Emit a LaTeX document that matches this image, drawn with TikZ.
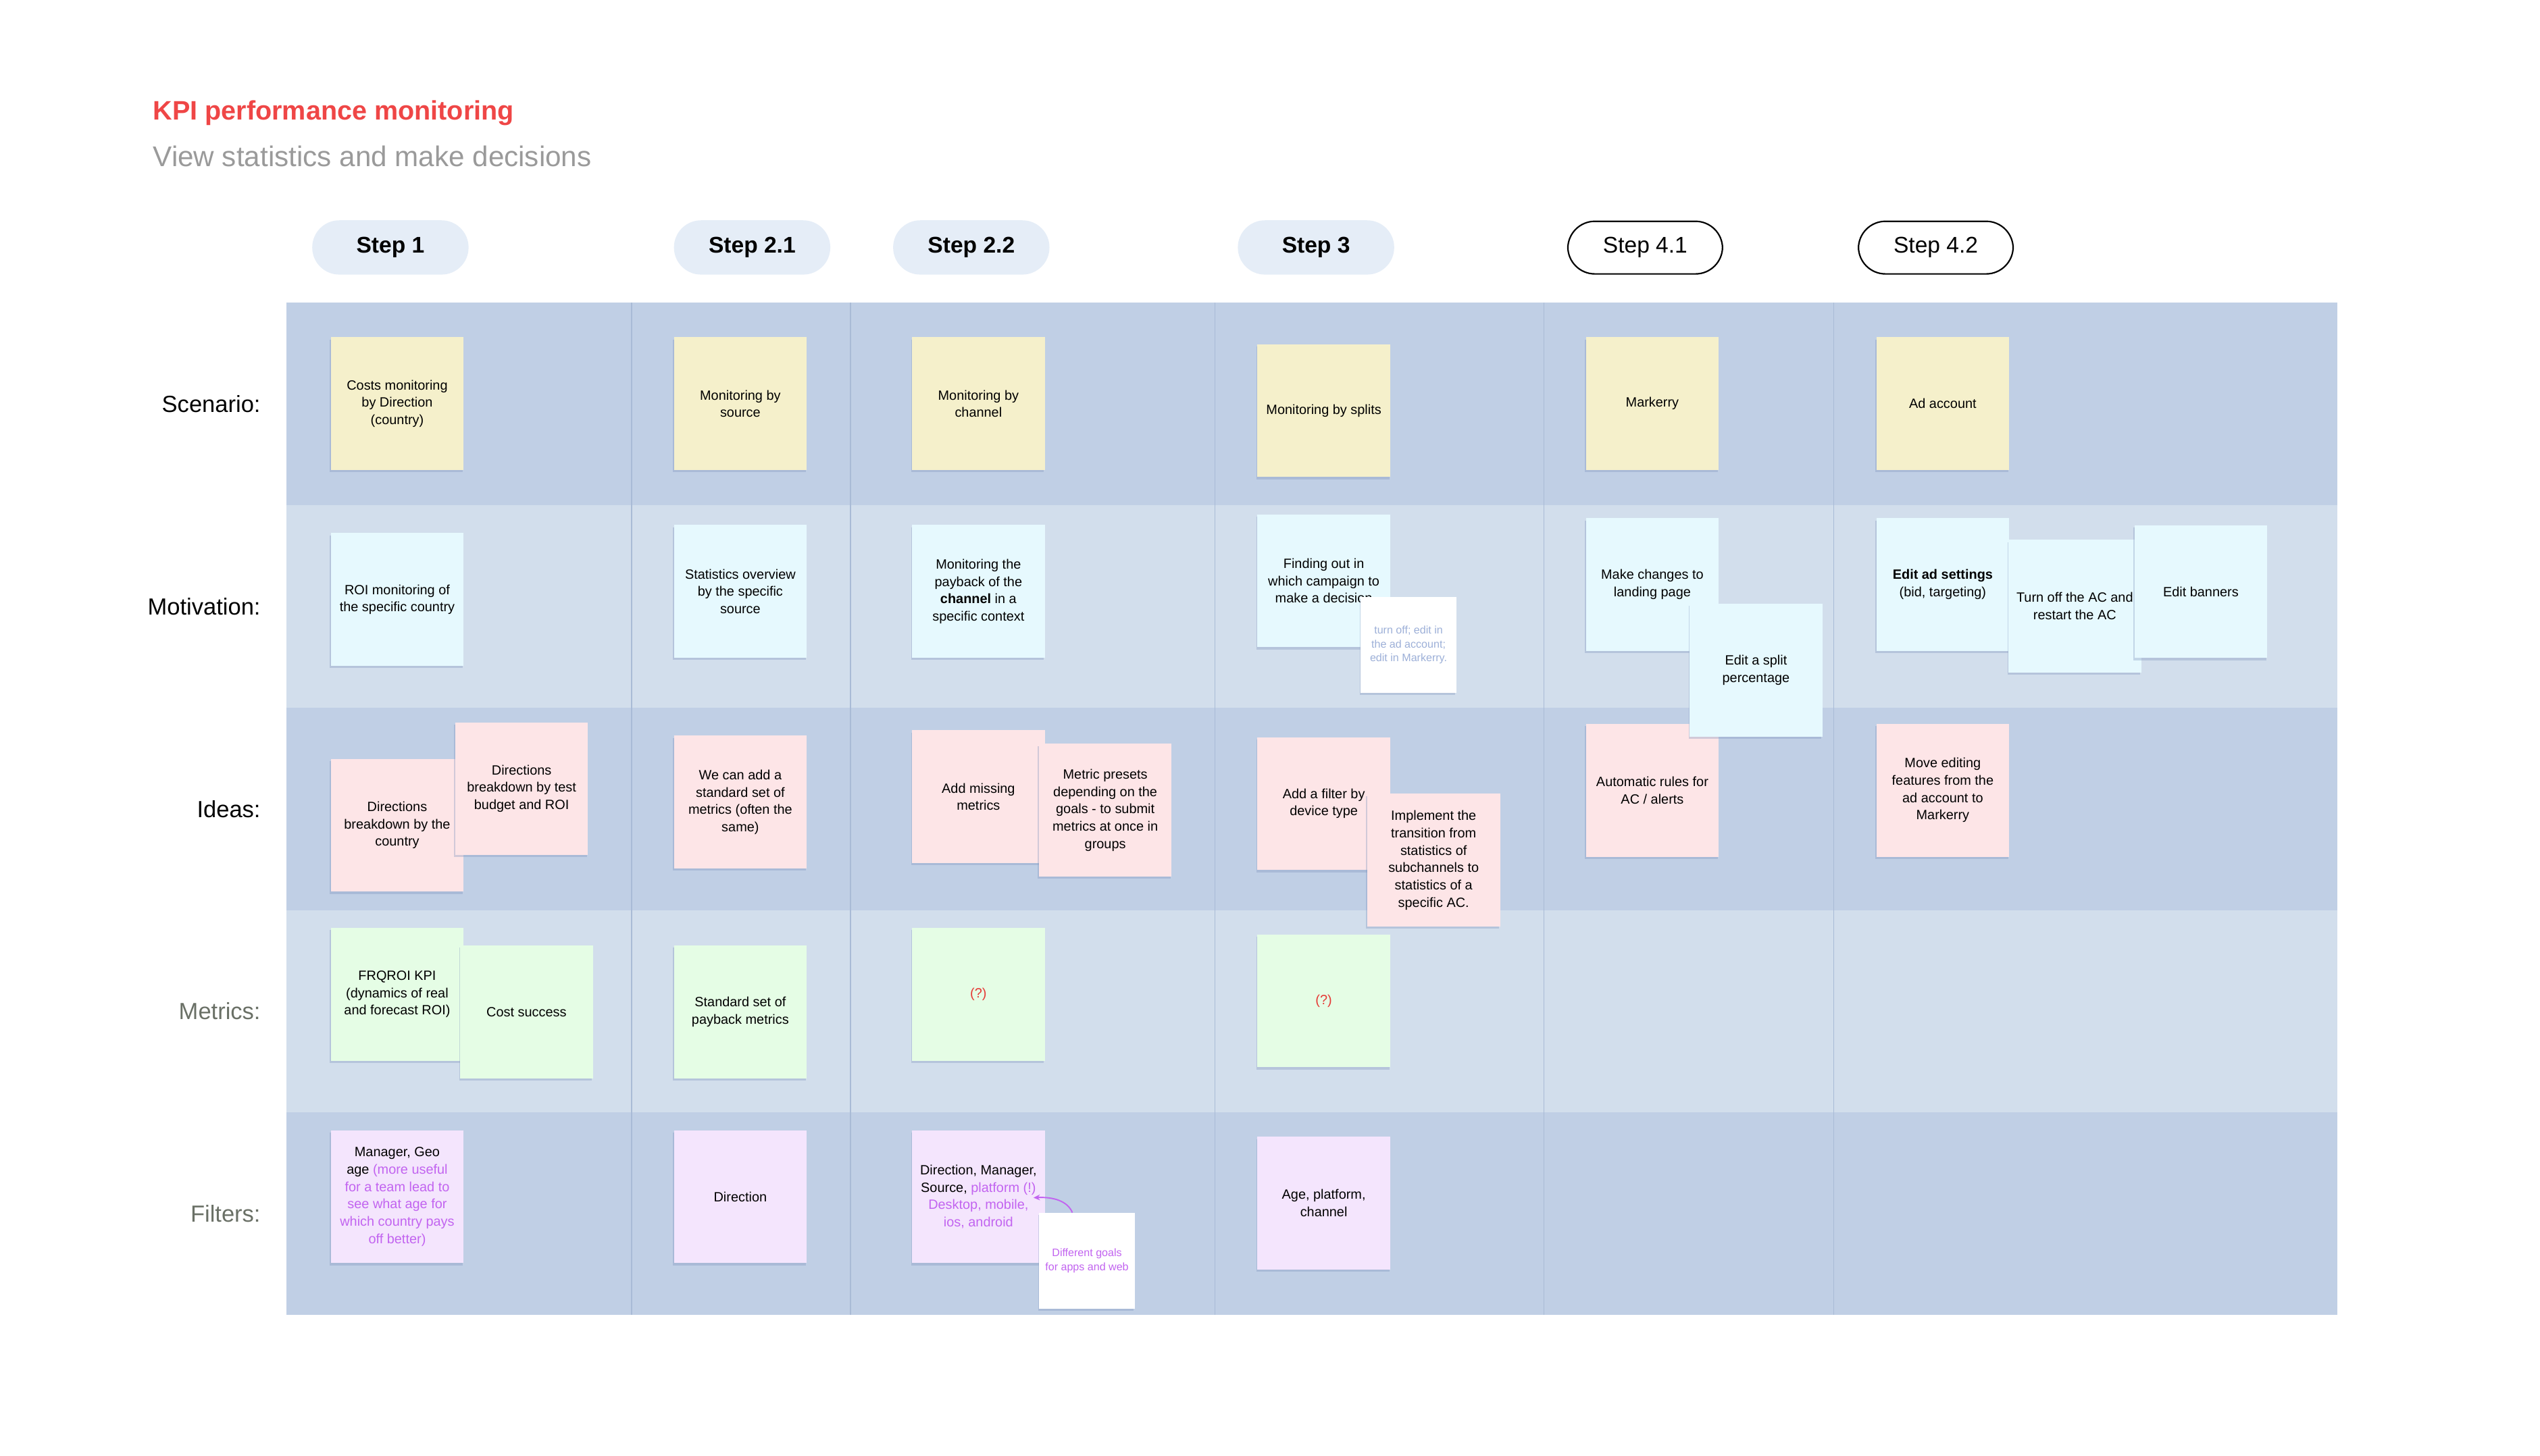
\documentclass[tikz,border=0pt]{standalone}
\usepackage{fontspec}
\setmainfont{Liberation Sans}
\usetikzlibrary{shadows,arrows.meta}
\definecolor{boardDark}{HTML}{C0CFE5}
\definecolor{boardLight}{HTML}{D2DEEC}
\definecolor{divider}{HTML}{A9BBD6}
\definecolor{stYellow}{HTML}{F5F0CB}
\definecolor{stCyan}{HTML}{E6F9FE}
\definecolor{stPink}{HTML}{FDE5E7}
\definecolor{stGreen}{HTML}{E5FDE5}
\definecolor{stPurple}{HTML}{F4E5FD}
\definecolor{pillFill}{HTML}{E5EDF7}
\definecolor{titleRed}{HTML}{EF4646}
\definecolor{subGray}{HTML}{9A9A9A}
\definecolor{labGray}{HTML}{6A7066}
\definecolor{purp}{HTML}{C264F0}
\definecolor{qRed}{HTML}{E53935}
\definecolor{noteBlue}{HTML}{9DB0D8}
\definecolor{shadowC}{HTML}{7F95BE}
\newcommand\stfont{\fontsize{8.3}{10.7}\selectfont}
\newcommand\smfont{\fontsize{6.7}{8.4}\selectfont}
\newcommand\labfont{\fontsize{14.4}{17}\selectfont}
\newcommand\pillfont{\fontsize{14}{16}\selectfont}
\begin{document}
\begin{tikzpicture}[x=1pt,y=-1pt,
  sticky/.style={rectangle, minimum width=82pt, minimum height=82pt, inner sep=0pt,
    align=center, font=\stfont, text=black,
    drop shadow={shadow xshift=-0.6pt, shadow yshift=-1.4pt, opacity=0.35, fill=shadowC}},
  yel/.style={sticky, fill=stYellow},
  cya/.style={sticky, fill=stCyan},
  pnk/.style={sticky, fill=stPink},
  grn/.style={sticky, fill=stGreen},
  pur/.style={sticky, fill=stPurple},
  smallnote/.style={sticky, fill=white, minimum width=59pt, minimum height=59pt, font=\smfont},
  pillA/.style={rectangle, rounded corners=16.7pt, minimum width=96.5pt, minimum height=33.5pt,
    fill=pillFill, font=\pillfont\bfseries, inner sep=0pt},
  pillB/.style={rectangle, rounded corners=16.7pt, minimum width=95.5pt, minimum height=32.5pt,
    fill=white, draw=black, line width=0.9pt, font=\pillfont, inner sep=0pt},
  rowlab/.style={anchor=east, font=\labfont, inner sep=0pt},
  rowband/.style={draw=none},
  divline/.style={draw=divider, line width=0.6pt}
]
\useasboundingbox (0,0) rectangle (1568,899);
\fill[white] (0,0) rectangle (1568,899);

% title
\node[anchor=base west, inner sep=0pt, font=\fontsize{16.5}{20}\selectfont\bfseries, text=titleRed] (title) at (94.3,74) {KPI performance monitoring};
\node[anchor=base west, inner sep=0pt, font=\fontsize{17.6}{21}\selectfont, text=subGray] (subtitle) at (94.3,103) {View statistics and make decisions};

% steps
\node[pillA] (p1)  at (241,152.8) {Step 1};
\node[pillA] (p21) at (464.3,152.8) {Step 2.1};
\node[pillA] (p22) at (599.6,152.8) {Step 2.2};
\node[pillA] (p3)  at (812.4,152.8) {Step 3};
\node[pillB] (p41) at (1015.6,152.9) {Step 4.1};
\node[pillB] (p42) at (1195,152.9) {Step 4.2};

% board rows
\fill[boardDark]  (177,187) rectangle (1443,312);
\fill[boardLight] (177,312) rectangle (1443,437);
\fill[boardDark]  (177,437) rectangle (1443,562);
\fill[boardLight] (177,562) rectangle (1443,687);
\fill[boardDark]  (177,687) rectangle (1443,812);
% column dividers
\foreach \cx in {390,525,750,953,1132} {
  \draw[divline] (\cx,187) -- (\cx,812);
}

% row labels
\node[rowlab] (l1) at (161,249.5) {Scenario:};
\node[rowlab] (l2) at (161,374.5) {Motivation:};
\node[rowlab] (l3) at (161,499.5) {Ideas:};
\node[rowlab, text=labGray] (l4) at (161,624.5) {Metrics:};
\node[rowlab, text=labGray] (l5) at (161,749.5) {Filters:};

% Step 1
\node[yel] (sc1) at (245.2,249.3) {Costs monitoring\\by Direction\\(country)};
\node[cya] (mo1) at (245.2,370.2) {ROI monitoring of\\the specific country};
\node[pnk] (id1a) at (245.2,509.6) {Directions\\breakdown by the\\country};
\node[pnk] (id1b) at (322,487) {Directions\\breakdown by test\\budget and ROI};
\node[grn] (me1a) at (245.2,614) {FRQROI KPI\\(dynamics of real\\and forecast ROI)};
\node[grn] (me1b) at (325,624.8) {Cost success};
\node[pur] (fi1) at (245.2,739) {Manager, Geo\\age \textcolor{purp}{(more useful}\\\textcolor{purp}{for a team lead to}\\\textcolor{purp}{see what age for}\\\textcolor{purp}{which country pays}\\\textcolor{purp}{off better)}};

% Step 2.1
\node[yel] (sc21) at (457,249.3) {Monitoring by\\source};
\node[cya] (mo21) at (457,365.2) {Statistics overview\\by the specific\\source};
\node[pnk] (id21) at (457,495.3) {We can add a\\standard set of\\metrics (often the\\same)};
\node[grn] (me21) at (457,624.8) {Standard set of\\payback metrics};
\node[pur] (fi21) at (457,739) {Direction};

% Step 2.2
\node[yel] (sc22) at (604,249.3) {Monitoring by\\channel};
\node[cya] (mo22) at (604,365.2) {Monitoring the\\payback of the\\\textbf{channel} in a\\specific context};
\node[pnk] (id22a) at (604,492) {Add missing\\metrics};
\node[pnk] (id22b) at (682.3,500.3) {Metric presets\\depending on the\\goals - to submit\\metrics at once in\\groups};
\node[grn, text=qRed] (me22) at (604,614) {(?)};
\node[pur] (fi22) at (604,739) {Direction, Manager,\\Source, \textcolor{purp}{platform (!)}\\\textcolor{purp}{Desktop, mobile,}\\\textcolor{purp}{ios, android}};
\node[smallnote, text=purp] (nt22) at (671,778.5) {Different goals\\for apps and web};
\coordinate (plat) at (638,739.6);
\draw[purp, line width=0.8pt, -{Stealth[length=4pt,width=3.6pt]}] ([xshift=-9pt]nt22.north) .. controls (659,741.5) and (650,739) .. (plat);

% Step 3
\node[yel] (sc3) at (817.2,253.5) {Monitoring by splits};
\node[cya] (mo3) at (817.2,358.6) {Finding out in\\which campaign to\\make a decision};
\node[smallnote, text=noteBlue] (nt3) at (869.5,398.2) {turn off; edit in\\the ad account;\\edit in Markerry.};
\node[pnk] (id3a) at (817.2,496.2) {Add a filter by\\device type};
\node[pnk] (id3b) at (885,531.2) {Implement the\\transition from\\statistics of\\subchannels to\\statistics of a\\specific AC.};
\node[grn, text=qRed] (me3) at (817.2,618) {(?)};
\node[pur] (fi3) at (817.2,743) {Age, platform,\\channel};

% Step 4.1
\node[yel] (sc41) at (1020,249.3) {Markerry};
\node[cya] (mo41a) at (1020,361) {Make changes to\\landing page};
\node[pnk] (id41) at (1020,488) {Automatic rules for\\AC / alerts};
\node[cya] (mo41b) at (1084,413.8) {Edit a split\\percentage};

% Step 4.2
\node[yel] (sc42) at (1199.3,249.3) {Ad account};
\node[cya] (mo42a) at (1199.3,361) {\textbf{Edit ad settings}\\(bid, targeting)};
\node[cya] (mo42b) at (1280.8,374.3) {Turn off the AC and\\restart the AC};
\node[cya] (mo42c) at (1358.6,365.3) {Edit banners};
\node[pnk] (id42) at (1199.3,488) {Move editing\\features from the\\ad account to\\Markerry};
\end{tikzpicture}
\end{document}
